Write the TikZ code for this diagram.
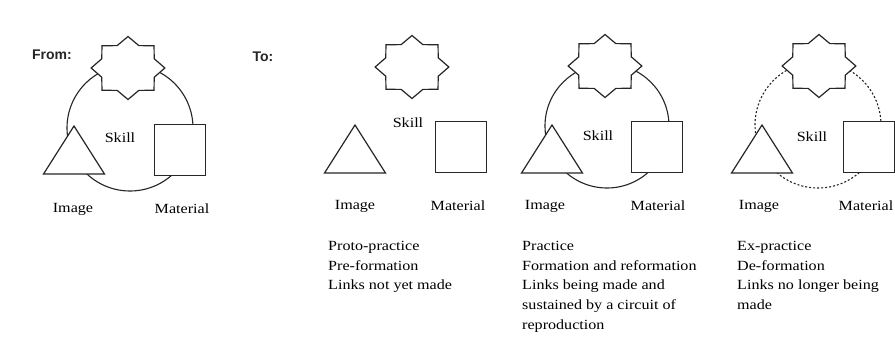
\documentclass[tikz,border=0pt]{standalone}
\usepackage{fontspec}
\setmainfont{Liberation Serif}[FakeStretch=1.15]
\setsansfont{Liberation Sans}
\usetikzlibrary{shapes.geometric}

\tikzset{
  shapeline/.style={draw=black!85, line width=1.2pt, fill=white, inner sep=0pt, outer sep=0pt},
  skillstar/.style={shapeline, star, star points=8, star point ratio=1.3, minimum size=63pt, xscale=1.17, transform shape},
  imagetri/.style={shapeline, regular polygon, regular polygon sides=3, minimum size=64pt, xscale=1.1, transform shape},
  materialbox/.style={shapeline, rectangle, minimum size=51pt},
  ring/.style={draw=black!85, line width=1.1pt},
  brokenring/.style={ring, dash pattern=on 2pt off 2pt},
  caption/.style={font=\fontsize{14}{19.7}\selectfont, text=black, inner sep=0pt},
  note/.style={caption, align=left, anchor=north west},
  heading/.style={font=\sffamily\bfseries\fontsize{14}{17}\selectfont, text=black!85, inner sep=0pt}
}

\begin{document}
\begin{tikzpicture}[x=1pt, y=1pt]
\path[use as bounding box, fill=white] (0,0) rectangle (895,-341);

% from
\node[heading] (from) at (52,-55) {From:};
\coordinate (hub1) at (130,-128);
\draw[ring] (hub1) circle[radius=63];
\node[skillstar] (skill1) at (128,-68) {};
\node[imagetri] (image1) at (74,-158) {};
\node[materialbox] (material1) at (180,-150) {};
\node[caption] (skilltext1) at (120,-138) {Skill};
\node[caption] (imagetext1) at (73,-209) {Image};
\node[caption] (materialtext1) at (182,-209) {Material};

% to: proto-practice
\node[heading] (to) at (263,-57) {To:};
\node[skillstar] (skill2) at (412,-67) {};
\node[imagetri] (image2) at (355,-157) {};
\node[materialbox] (material2) at (461,-147) {};
\node[caption] (skilltext2) at (408,-123) {Skill};
\node[caption] (imagetext2) at (355,-206) {Image};
\node[caption] (materialtext2) at (458,-206) {Material};
\node[note] (note2) at (328,-241) {Proto-practice\\Pre-formation\\Links not yet made};

% practice
\coordinate (hub3) at (607,-126);
\draw[ring] (hub3) circle[radius=62];
\node[skillstar] (skill3) at (605,-66) {};
\node[imagetri] (image3) at (552,-157) {};
\node[materialbox] (material3) at (657,-147) {};
\node[caption] (skilltext3) at (598,-136) {Skill};
\node[caption] (imagetext3) at (545,-206) {Image};
\node[caption] (materialtext3) at (658,-206) {Material};
\node[note] (note3) at (522,-241) {Practice\\Formation and reformation\\Links being made and\\sustained by a circuit of\\reproduction};

% ex-practice
\coordinate (hub4) at (818,-125);
\draw[brokenring] (hub4) circle[radius=63];
\node[skillstar] (skill4) at (819,-66) {};
\node[imagetri] (image4) at (762,-157) {};
\node[materialbox] (material4) at (869,-147) {};
\node[caption] (skilltext4) at (812,-137) {Skill};
\node[caption] (imagetext4) at (759,-206) {Image};
\node[caption] (materialtext4) at (866,-206) {Material};
\node[note] (note4) at (737,-241) {Ex-practice\\De-formation\\Links no longer being\\made};
\end{tikzpicture}
\end{document}
